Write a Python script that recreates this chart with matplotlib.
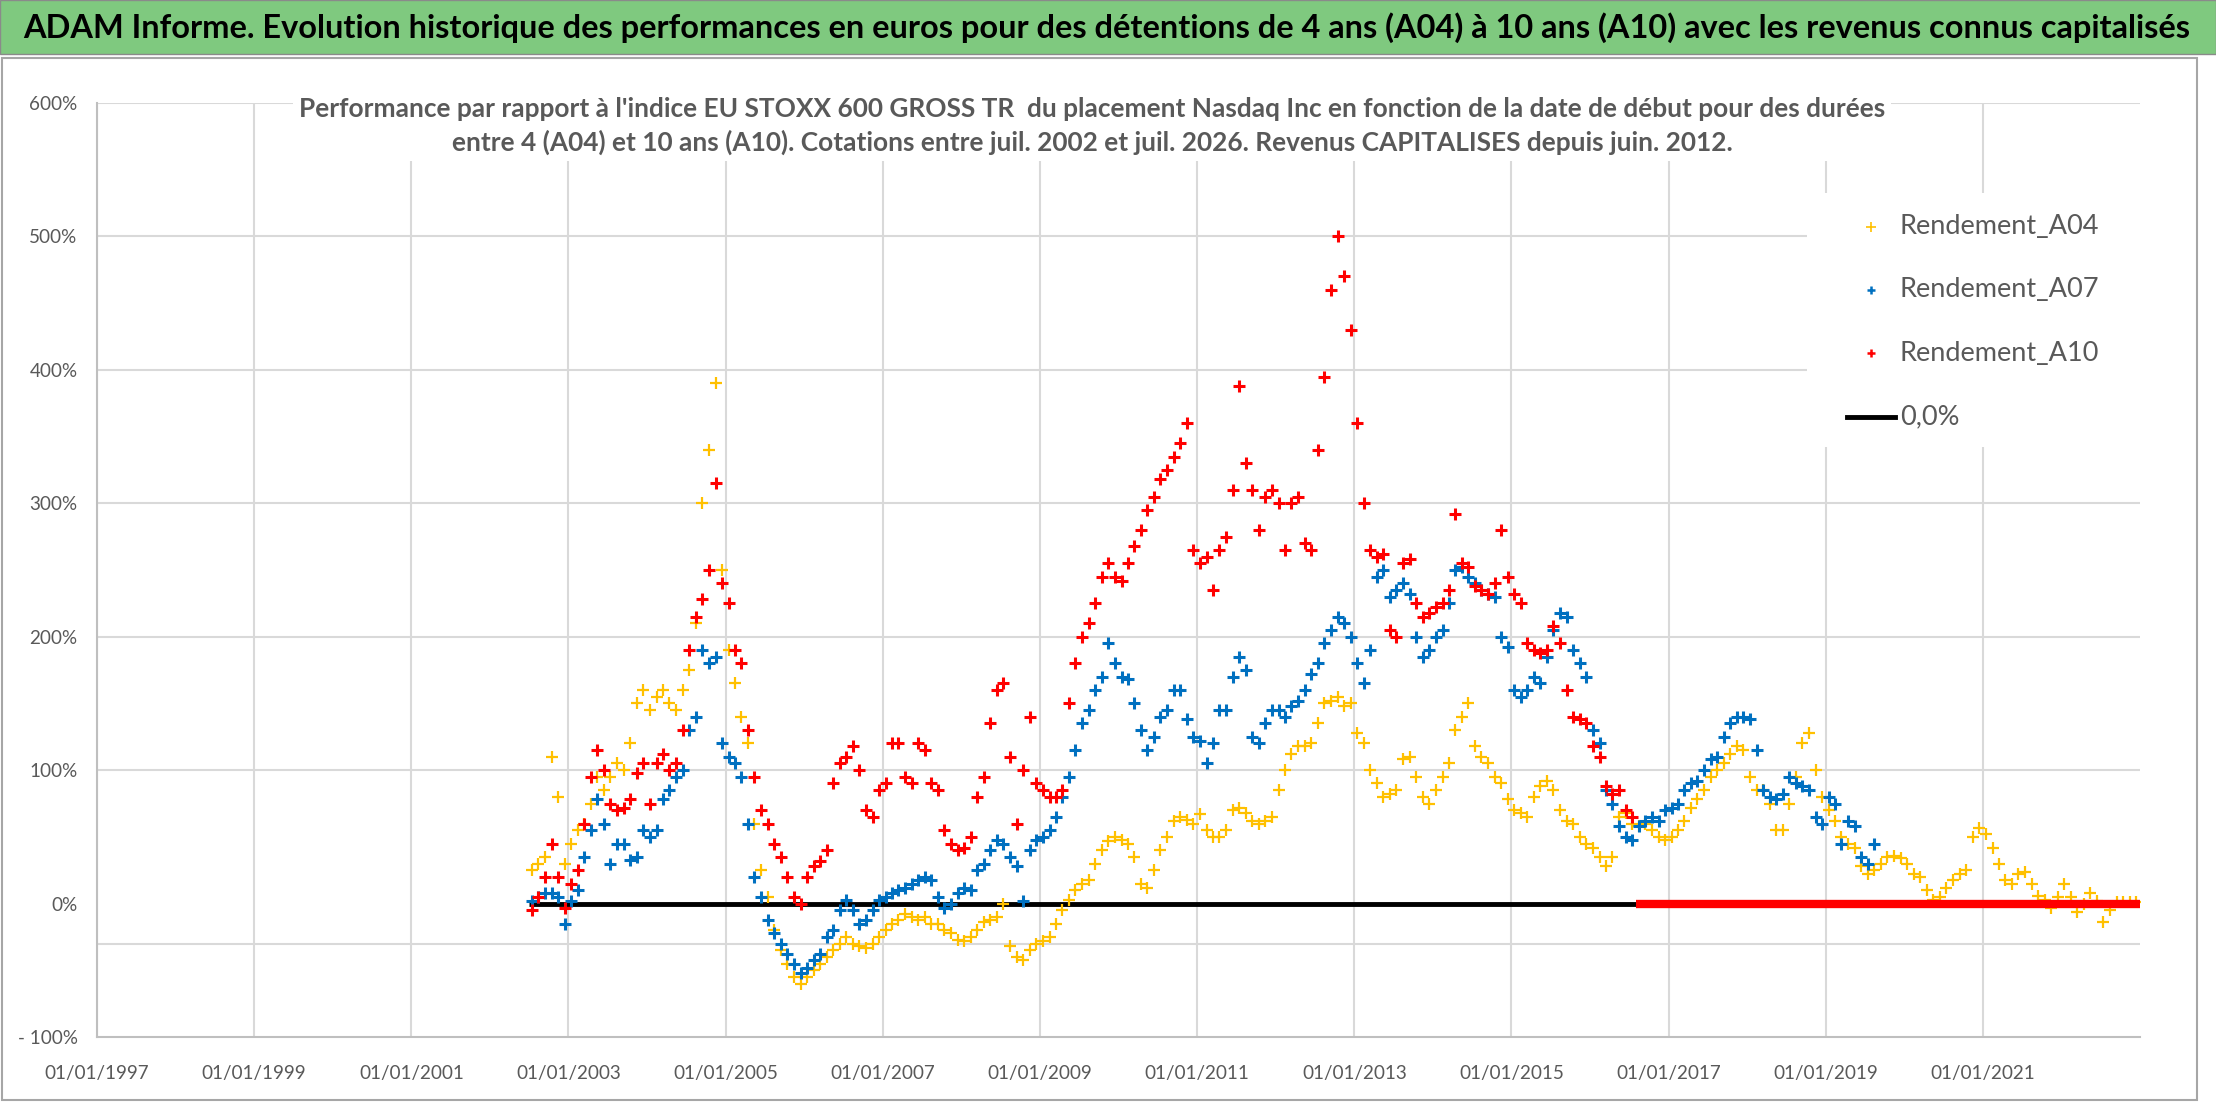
import matplotlib
matplotlib.use("Agg")
import matplotlib.pyplot as plt
import matplotlib.dates as mdates
from matplotlib.lines import Line2D
from matplotlib.patches import Rectangle
from matplotlib.ticker import FixedLocator, FixedFormatter
import pandas as pd

plt.rcParams['font.family'] = ['Lato', 'DejaVu Sans']

# monthly readings (in %), first point mid-July 2002
rendement_a04 = [
    25, 30, 35, 110, 80, 30, 45, 55, 60, 75,
    95, 85, 95, 105, 100, 120, 150, 160, 145, 155,
    160, 150, 145, 160, 175, 210, 300, 340, 390, 250,
    190, 165, 140, 120, 60, 25, 5, -20, -35, -45,
    -55, -60, -55, -50, -45, -40, -35, -30, -25, -30,
    -32, -33, -30, -25, -20, -15, -12, -8, -10, -12,
    -10, -15, -15, -20, -22, -27, -28, -25, -20, -14,
    -12, -10, 0, -32, -40, -42, -35, -30, -28, -25,
    -15, -5, 3, 10, 15, 18, 30, 40, 47, 50,
    48, 45, 35, 15, 12, 25, 40, 50, 62, 65,
    63, 60, 67, 55, 50, 50, 55, 70, 72, 68,
    62, 60, 62, 65, 85, 100, 112, 118, 118, 120,
    135, 150, 152, 155, 148, 150, 128, 120, 100, 90,
    80, 82, 85, 108, 110, 95, 80, 75, 85, 95,
    105, 130, 140, 150, 118, 110, 105, 95, 90, 78,
    70, 68, 65, 80, 88, 92, 85, 70, 62, 60,
    50, 45, 42, 35, 28, 35, 65, 68, 60, 58,
    60, 55, 50, 48, 50, 55, 62, 72, 78, 85,
    95, 100, 105, 112, 118, 115, 95, 85, 85, 75,
    55, 55, 75, 95, 120, 128, 100, 80, 70, 62,
    50, 45, 42, 28, 22, 25, 30, 35, 36, 34,
    30, 22, 20, 10, 3, 5, 12, 18, 22, 25,
    50, 57, 52, 42, 30, 18, 15, 22, 24, 15,
    6, 3, -3, 5, 15, 5, -6, 0, 8, 2,
    -14, -5, 1, 1, 1, 1,
]

rendement_a07 = [
    2, 5, 8, 8, 5, -15, 2, 10, 35, 55,
    78, 60, 30, 45, 45, 33, 35, 55, 50, 55,
    78, 85, 95, 100, 130, 140, 190, 180, 185, 120,
    110, 105, 95, 60, 20, 5, -12, -22, -30, -38,
    -45, -52, -48, -42, -38, -25, -20, -5, 3, -5,
    -15, -12, -5, 3, 5, 8, 10, 12, 15, 18,
    20, 18, 5, -3, 0, 8, 12, 10, 25, 30,
    40, 48, 45, 35, 28, 2, 40, 48, 50, 55,
    65, 80, 95, 115, 135, 145, 160, 170, 195, 180,
    170, 168, 150, 130, 115, 125, 140, 145, 160, 160,
    138, 125, 122, 105, 120, 145, 145, 170, 185, 175,
    125, 120, 135, 145, 145, 140, 148, 152, 160, 172,
    180, 195, 205, 215, 210, 200, 180, 165, 190, 245,
    250, 230, 235, 240, 232, 200, 185, 190, 200, 205,
    225, 250, 252, 245, 240, 235, 232, 230, 200, 192,
    160, 155, 160, 170, 165, 185, 205, 218, 215, 190,
    180, 170, 130, 120, 85, 75, 58, 50, 48, 58,
    62, 65, 62, 70, 72, 75, 85, 90, 92, 100,
    108, 110, 125, 135, 140, 140, 138, 115, 85, 80,
    78, 82, 95, 90, 88, 85, 65, 60, 80, 75,
    45, 62, 58, 35, 30, 45,
]

rendement_a10 = [
    -5, 5, 20, 45, 20, -3, 15, 25, 60, 95,
    115, 100, 75, 70, 72, 78, 98, 105, 75, 105,
    112, 100, 105, 130, 190, 215, 228, 250, 315, 240,
    225, 190, 180, 130, 95, 70, 60, 45, 35, 20,
    5, 0, 20, 28, 32, 40, 90, 105, 110, 118,
    100, 70, 65, 85, 90, 120, 120, 95, 90, 120,
    115, 90, 85, 55, 45, 40, 42, 50, 80, 95,
    135, 160, 165, 110, 60, 100, 140, 90, 85, 80,
    80, 85, 150, 180, 200, 210, 225, 245, 255, 245,
    242, 255, 268, 280, 295, 305, 318, 325, 335, 345,
    360, 265, 255, 260, 235, 265, 275, 310, 388, 330,
    310, 280, 305, 310, 300, 265, 300, 305, 270, 265,
    340, 395, 460, 500, 470, 430, 360, 300, 265, 260,
    262, 205, 200, 255, 258, 225, 215, 218, 222, 225,
    235, 292, 255, 252, 238, 235, 232, 240, 280, 245,
    232, 225, 195, 190, 188, 190, 208, 195, 160, 140,
    138, 135, 118, 110, 88, 82, 85, 70, 65,
]

# zero reference line and the zero-valued tail of A10
zero_line_dates = ['2002-07-01', '2023-01-01']
a10_zero_dates = ['2016-08-01', '2023-01-01']

x_tick_labels = ['01/01/1997', '01/01/1999', '01/01/2001', '01/01/2003', '01/01/2005',
                 '01/01/2007', '01/01/2009', '01/01/2011', '01/01/2013', '01/01/2015',
                 '01/01/2017', '01/01/2019', '01/01/2021']
y_ticks = [-100, 0, 100, 200, 300, 400, 500, 600]
y_tick_labels = ['- 100%', '0%', '100%', '200%', '300%', '400%', '500%', '600%']
y_grid = [100, 200, 300, 400, 500, 600, -30]

title = ("ADAM Informe. Evolution historique des performances en euros pour des détentions "
         "de 4 ans (A04) à 10 ans (A10) avec les revenus connus capitalisés")
subtitle = ("Performance par rapport à l'indice EU STOXX 600 GROSS TR  du placement Nasdaq Inc "
            "en fonction de la date de début pour des durées\n"
            "entre 4 (A04) et 10 ans (A10). Cotations entre juil. 2002 et juil. 2026. "
            "Revenus CAPITALISES depuis juin. 2012.")
legend_labels = ['Rendement_A04', 'Rendement_A07', 'Rendement_A10', '0,0%']

YELLOW = '#FFC000'
BLUE = '#0070C0'
RED = '#FF0000'
GREY_TXT = '#595959'
GRID = '#D9D9D9'


def month_dates(n):
    return pd.date_range('2002-07-01', periods=n, freq='MS') + pd.Timedelta(days=14)


W, H = 2216, 1102
fig = plt.figure(figsize=(W / 100, H / 100), dpi=100)
renderer = fig.canvas.get_renderer()


def fx(px):
    return px / W


def fy(py):
    return 1 - py / H


def fit_size(txt, width_px, **kw):
    t = fig.text(0, 0, txt, fontsize=20, **kw)
    w = t.get_window_extent(renderer=renderer).width
    t.remove()
    return 20 * width_px / w


# banner + chart frame
fig.add_artist(Rectangle((0, fy(54)), 1, 54 / H, transform=fig.transFigure,
                         facecolor='#7FC97F', edgecolor='#8a8a8a', lw=1))
fig.add_artist(Rectangle((0.001, 0.002), 0.9905, fy(58) - 0.002, transform=fig.transFigure,
                         facecolor='none', edgecolor='#A6A6A6', lw=1.5))
fs_title = fit_size(title, 2172, fontweight='bold')
fig.text(fx(1107), fy(28), title, ha='center', va='center',
         fontsize=fs_title, fontweight='bold', color='black')

ax = fig.add_axes([fx(97), fy(1037), (2140 - 97) / W, (1037 - 103) / H])

yellow_style = dict(ls='none', marker='+', ms=9, mew=1.6, color=YELLOW)
blue_style = dict(ls='none', marker='+', ms=8.5, mew=2.2, color=BLUE)
red_style = dict(ls='none', marker='+', ms=8.5, mew=2.2, color=RED)

ax.plot(month_dates(len(rendement_a04)), rendement_a04, zorder=3, **yellow_style)
ax.plot(month_dates(len(rendement_a07)), rendement_a07, zorder=4, **blue_style)
ax.plot(month_dates(len(rendement_a10)), rendement_a10, zorder=5, **red_style)
ax.plot(pd.to_datetime(zero_line_dates), [0, 0], color='black', lw=3.5, zorder=2,
        solid_capstyle='butt')
ax.plot(pd.to_datetime(a10_zero_dates), [0, 0], color=RED, lw=6, zorder=5,
        solid_capstyle='butt')

ax.set_xlim(pd.Timestamp('1997-01-01'), pd.Timestamp('2023-01-01'))
ax.set_ylim(-100, 600)
x_ticks = mdates.date2num(pd.to_datetime(x_tick_labels, format='%d/%m/%Y'))
ax.xaxis.set_major_locator(FixedLocator(x_ticks))
ax.xaxis.set_major_formatter(FixedFormatter(x_tick_labels))
ax.yaxis.set_major_locator(FixedLocator(y_ticks))
ax.yaxis.set_major_formatter(FixedFormatter(y_tick_labels))

ax.grid(axis='x', color=GRID, lw=1.5, zorder=0)
for v in y_grid:
    ax.axhline(v, color=GRID, lw=1.5, zorder=1)
ax.set_axisbelow(True)
for side in ['top', 'right']:
    ax.spines[side].set_visible(False)
for side in ['left', 'bottom']:
    ax.spines[side].set_color('#BFBFBF')
    ax.spines[side].set_linewidth(1.5)

fs_tick = fit_size('01/01/1997', 105)
ax.tick_params(axis='both', length=0, labelsize=fs_tick, labelcolor=GREY_TXT)
ax.tick_params(axis='x', pad=20)
ax.tick_params(axis='y', pad=14)

fs_sub = fit_size(subtitle.split('\n')[0], 1583, fontweight='bold')
fig.text(fx(1092), fy(126), subtitle, ha='center', va='center', ma='center',
         fontsize=fs_sub, fontweight='bold', color=GREY_TXT, linespacing=1.45,
         bbox=dict(facecolor='white', edgecolor='none', pad=4))

# legend box (white, no border) with entries laid out like the Excel legend
fig.add_artist(Rectangle((fx(1807), fy(447)), (2140 - 1807) / W, (447 - 193) / H,
                         transform=fig.transFigure, facecolor='white', edgecolor='none',
                         zorder=6))
fs_leg = fit_size(legend_labels[0], 200)
row_y = [227, 290, 353, 417]
leg_styles = [dict(yellow_style, ms=7, mew=1.2), dict(blue_style, ms=6, mew=1.8),
              dict(red_style, ms=6, mew=1.8)]
for i, lab in enumerate(legend_labels):
    if i < 3:
        fig.add_artist(Line2D([fx(1871)], [fy(row_y[i])], transform=fig.transFigure,
                              zorder=7, **leg_styles[i]))
    else:
        fig.add_artist(Line2D([fx(1847), fx(1895)], [fy(row_y[i]), fy(row_y[i])],
                              transform=fig.transFigure, color='black', lw=3.5, zorder=7))
    fig.text(fx(1900), fy(row_y[i]), lab, ha='left', va='center', fontsize=fs_leg,
             color=GREY_TXT, zorder=7)

fig.savefig('out.png', dpi=100)
